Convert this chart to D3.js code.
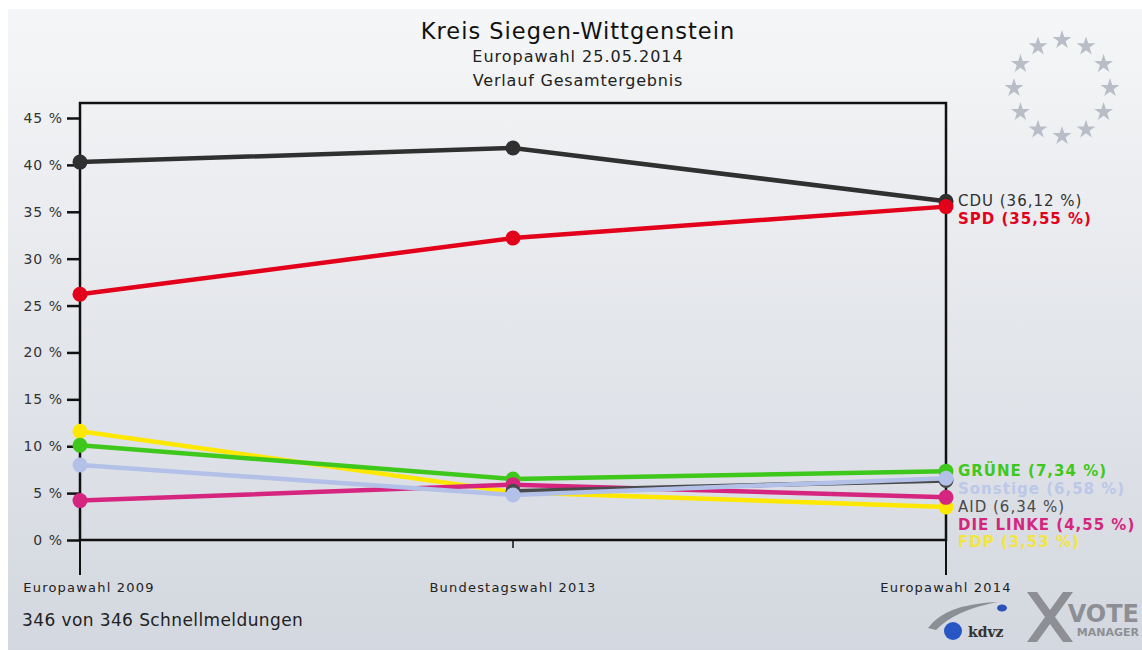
<!DOCTYPE html>
<html>
<head>
<meta charset="utf-8">
<script src="https://cdn.jsdelivr.net/npm/d3@7"></script>
<style>
body { margin: 0; background: #fff; }
text { font-family: "DejaVu Sans", Verdana, sans-serif; }
</style>
</head>
<body>
<div id="chart"></div>
<script>
// elections on the x axis
elections = ["Europawahl 2009", "Bundestagswahl 2013", "Europawahl 2014"]
yTicks = [0, 5, 10, 15, 20, 25, 30, 35, 40, 45]

// party results, null = not running
parties = ["CDU", "SPD", "FDP", "GRÜNE", "DIE LINKE", "AID", "Sonstige"]
cdu = [40.3, 41.8, 36.12]
spd = [26.2, 32.2, 35.55]
fdp = [11.6, 5.1, 3.53]
gruene = [10.1, 6.5, 7.34]
linke = [4.2, 5.9, 4.55]
aid = [null, 5.2, 6.34]
sonstige = [8.0, 4.8, 6.58]
colors = ["#303030", "#e2001a", "#ffe800", "#3fc81c", "#d5257f", "#4a4a4a", "#b3c1e8"]
labelColors = ["#303030", "#e2001a", "#f2e542", "#3fc81c", "#d5257f", "#4a4a4a", "#bcc8e8"]

series = [cdu, spd, fdp, gruene, linke, aid, sonstige]

width = 1142
height = 650
plotLeft = 80
plotRight = 946
plotTop = 103
plotBottom = 540

svg = d3.select("#chart").append("svg")
  .attr("width", width)
  .attr("height", height)

defs = svg.append("defs")
grad = defs.append("linearGradient").attr("id", "bg")
  .attr("x1", 0).attr("y1", 0).attr("x2", 0).attr("y2", 1)
grad.append("stop").attr("offset", "0%").attr("stop-color", "#f5f6f7")
grad.append("stop").attr("offset", "100%").attr("stop-color", "#d3d7df")

svg.append("rect").attr("x", 8).attr("y", 9)
  .attr("width", width - 8).attr("height", height - 9)
  .attr("fill", "url(#bg)")

// titles
svg.append("text").attr("x", 578).attr("y", 39).attr("text-anchor", "middle")
  .attr("font-size", 22.5).attr("letter-spacing", 1).attr("fill", "#111").text("Kreis Siegen-Wittgenstein")
svg.append("text").attr("x", 578).attr("y", 62).attr("text-anchor", "middle")
  .attr("font-size", 16).attr("letter-spacing", 1).attr("fill", "#222").text("Europawahl 25.05.2014")
svg.append("text").attr("x", 578).attr("y", 86).attr("text-anchor", "middle")
  .attr("font-size", 16).attr("letter-spacing", 0.8).attr("fill", "#222").text("Verlauf Gesamtergebnis")

// eu stars
star = d3.symbol().type(d3.symbolStar).size(110)
svg.append("g").attr("transform", "translate(1062,88)")
  .selectAll("path").data(d3.range(12)).enter()
  .append("path")
  .attr("d", star)
  .attr("fill", "#b8bdc7")
  .attr("transform", function(d) {
    a = d / 12 * 2 * Math.PI
    return "translate(" + (48 * Math.sin(a)) + "," + (-48 * Math.cos(a)) + ")"
  })

x = d3.scalePoint().domain(elections).range([plotLeft, plotRight])
y = d3.scaleLinear().domain([0, 45]).range([plotBottom, 118])

// frame
svg.append("rect").attr("x", plotLeft).attr("y", plotTop)
  .attr("width", plotRight - plotLeft).attr("height", plotBottom - plotTop)
  .attr("fill", "none").attr("stroke", "#111").attr("stroke-width", 2.5)
svg.append("line").attr("x1", plotLeft).attr("x2", plotLeft).attr("y1", plotBottom).attr("y2", 575)
  .attr("stroke", "#111").attr("stroke-width", 2)
svg.append("line").attr("x1", plotRight).attr("x2", plotRight).attr("y1", plotBottom).attr("y2", 575)
  .attr("stroke", "#111").attr("stroke-width", 2)
svg.append("line").attr("x1", x(elections[1])).attr("x2", x(elections[1])).attr("y1", plotBottom).attr("y2", 548)
  .attr("stroke", "#111").attr("stroke-width", 1.5)

yAxis = svg.append("g").attr("transform", "translate(" + plotLeft + ",0)")
  .call(d3.axisLeft(y).tickValues(yTicks).tickSize(13).tickPadding(4)
    .tickFormat(function(d) { return d + " %" }))
yAxis.select(".domain").remove()
yAxis.selectAll("line").attr("stroke", "#111").attr("stroke-width", 2.5)
yAxis.selectAll("text").attr("font-size", 14).attr("letter-spacing", 1).attr("fill", "#333")
  .style("font-family", "DejaVu Sans, Verdana, sans-serif")

// category labels
svg.selectAll(".cat").data(elections).enter()
  .append("text").attr("class", "cat")
  .attr("x", function(d) { return Math.max(x(d), 89) })
  .attr("y", 592)
  .attr("text-anchor", "middle")
  .attr("font-size", 13).attr("letter-spacing", 1.2).attr("fill", "#222")
  .text(function(d) { return d })

// lines
line = d3.line()
  .defined(function(d) { return d != null })
  .x(function(d, i) { return x(elections[i]) })
  .y(function(d) { return y(d) })

series.forEach(function(s, k) {
  svg.append("path").datum(s)
    .attr("d", line)
    .attr("fill", "none")
    .attr("stroke", colors[k])
    .attr("stroke-width", 4.5)
  svg.selectAll(".dot" + k).data(s).enter()
    .filter(function(d) { return d != null })
    .append("circle")
    .attr("cx", function(d) { return x(elections[s.indexOf(d)]) })
    .attr("cy", function(d) { return y(d) })
    .attr("r", 7.5)
    .attr("fill", colors[k])
})

// end labels, stacked so they don't overlap
ends = parties.map(function(p, k) { return { name: p, v: series[k][2], k: k } })
ends.sort(function(a, b) { return b.v - a.v })
prev = -100
ends.forEach(function(d) {
  d.ly = Math.max(y(d.v), prev + 17.8)
  prev = d.ly
})
svg.selectAll(".lab").data(ends).enter()
  .append("text").attr("class", "lab")
  .attr("x", 958)
  .attr("y", function(d) { return d.ly + 5 })
  .attr("font-size", 15).attr("letter-spacing", 1)
  .attr("font-weight", function(d) { return d.name == "CDU" || d.name == "AID" ? "normal" : "bold" })
  .attr("fill", function(d) { return labelColors[d.k] })
  .text(function(d) { return d.name + " (" + d.v.toFixed(2).replace(".", ",") + " %)" })

svg.append("text").attr("x", 22).attr("y", 626)
  .attr("font-size", 17).attr("letter-spacing", 0.4).attr("fill", "#222").text("346 von 346 Schnellmeldungen")

// logos (rough)
logo = svg.append("g")
logo.append("path").attr("d", "M928,628 Q945,604 998,602 Q955,610 936,630 Z").attr("fill", "#8a8e96")
logo.append("ellipse").attr("cx", 1002).attr("cy", 608).attr("rx", 5).attr("ry", 3.5).attr("fill", "#2a52b8")
logo.append("circle").attr("cx", 953).attr("cy", 631).attr("r", 9).attr("fill", "#2856c4")
logo.append("text").attr("x", 968).attr("y", 637).attr("font-size", 14).attr("font-weight", "bold")
  .attr("fill", "#333").style("font-family", "DejaVu Serif, serif").text("kdvz")
logo.append("path").attr("d", "M1027,592 L1037,592 L1050,610 L1063,592 L1073,592 L1055,617 L1073,642 L1063,642 L1050,624 L1037,642 L1027,642 L1045,617 Z")
  .attr("fill", "#8d8f94")
logo.append("text").attr("x", 1139).attr("y", 622).attr("text-anchor", "end")
  .attr("font-size", 24).attr("font-weight", "bold").attr("fill", "#8d8f94").text("VOTE")
logo.append("text").attr("x", 1139).attr("y", 636).attr("text-anchor", "end")
  .attr("font-size", 11).attr("font-weight", "bold").attr("fill", "#8d8f94").text("MANAGER")
</script>
</body>
</html>
